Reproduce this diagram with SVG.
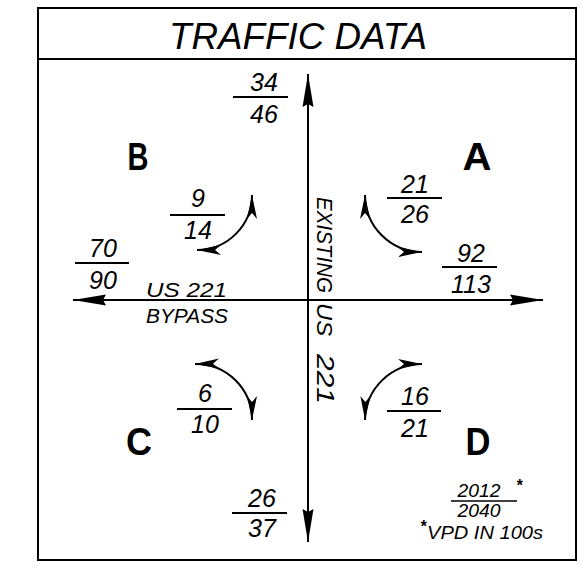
<svg xmlns="http://www.w3.org/2000/svg" width="584" height="573" viewBox="0 0 584 573">
<style>
.t{font-family:"Liberation Sans",Arial,sans-serif;font-style:italic;fill:#000}
.n{font-size:25px;text-anchor:middle}
.q{font-family:"Liberation Sans",Arial,sans-serif;font-size:38px;font-weight:bold;fill:#000;text-anchor:middle}
.ln{stroke:#000;stroke-width:2;fill:none}
.fl{stroke:#000;stroke-width:2}
</style>
<defs>
<marker id="big" markerUnits="userSpaceOnUse" markerWidth="40" markerHeight="16" viewBox="-34 -8 36 16" refX="0" refY="0" orient="auto-start-reverse">
<path d="M0,0 L-33,-5.5 L-30,0 L-33,5.5 Z" fill="#000"/>
</marker>
<marker id="sm" markerUnits="userSpaceOnUse" markerWidth="28" markerHeight="12" viewBox="-26 -6 28 12" refX="0" refY="0" orient="auto-start-reverse">
<path d="M0,0 L-24,-5 L-18,0 L-24,5 Z" fill="#000"/>
</marker>
</defs>
<rect x="0" y="0" width="584" height="573" fill="#fff"/>
<g id="frame">
<rect x="38" y="8" width="538" height="552" fill="none" stroke="#000" stroke-width="2"/>
<line x1="38" y1="59" x2="576" y2="59" stroke="#000" stroke-width="2"/>
<text class="t" x="298" y="49" font-size="37" text-anchor="middle" textLength="258" lengthAdjust="spacingAndGlyphs">TRAFFIC DATA</text>
</g>
<g id="connectors">
<line class="ln" x1="308" y1="300" x2="308" y2="74" marker-end="url(#big)"/>
<line class="ln" x1="308" y1="300" x2="308" y2="542" marker-end="url(#big)"/>
<line class="ln" x1="308" y1="300" x2="73" y2="300" marker-end="url(#big)"/>
<line class="ln" x1="308" y1="300" x2="543" y2="300" marker-end="url(#big)"/>
<path class="ln" d="M252,195 A55,55 0 0 1 197,250" marker-start="url(#sm)" marker-end="url(#sm)"/>
<path class="ln" d="M365,195 A57,57 0 0 0 422,252" marker-start="url(#sm)" marker-end="url(#sm)"/>
<path class="ln" d="M195,364 A56,56 0 0 1 252,420" marker-start="url(#sm)" marker-end="url(#sm)"/>
<path class="ln" d="M422,364 A57,57 0 0 0 365,420" marker-start="url(#sm)" marker-end="url(#sm)"/>
</g>
<g id="road-labels">
<text class="t" x="146" y="297" font-size="20" textLength="81" lengthAdjust="spacingAndGlyphs">US  221</text>
<text class="t" x="146" y="323" font-size="20" textLength="82" lengthAdjust="spacingAndGlyphs">BYPASS</text>
<text class="t" font-size="22" transform="translate(317,197) rotate(90)" textLength="96" lengthAdjust="spacingAndGlyphs">EXISTING</text>
<text class="t" font-size="22" transform="translate(317,303) rotate(90)" textLength="33" lengthAdjust="spacingAndGlyphs">US</text>
<text class="t" font-size="23" transform="translate(317,354) rotate(90)" textLength="50" lengthAdjust="spacingAndGlyphs">221</text>
</g>
<g id="quadrant-A"><text class="q" x="477" y="170" textLength="29" lengthAdjust="spacingAndGlyphs">A</text></g>
<g id="quadrant-B"><text class="q" x="138" y="170" textLength="21" lengthAdjust="spacingAndGlyphs">B</text></g>
<g id="quadrant-C"><text class="q" x="139" y="455" textLength="26" lengthAdjust="spacingAndGlyphs">C</text></g>
<g id="quadrant-D"><text class="q" x="478" y="455" textLength="25" lengthAdjust="spacingAndGlyphs">D</text></g>
<g id="vol-north">
<text class="t n" x="264" y="91">34</text><line class="fl" x1="233" y1="97" x2="288" y2="97"/><text class="t n" x="264" y="123">46</text>
</g>
<g id="vol-south">
<text class="t n" x="262" y="507">26</text><line class="fl" x1="232" y1="513" x2="287" y2="513"/><text class="t n" x="262" y="537">37</text>
</g>
<g id="vol-west">
<text class="t n" x="103" y="257">70</text><line class="fl" x1="75" y1="263" x2="129" y2="263"/><text class="t n" x="103" y="289">90</text>
</g>
<g id="vol-east">
<text class="t n" x="471" y="262">92</text><line class="fl" x1="442" y1="267" x2="497" y2="267"/><text class="t n" x="471" y="293">113</text>
</g>
<g id="vol-B">
<text class="t n" x="198" y="207">9</text><line class="fl" x1="170" y1="215" x2="225" y2="215"/><text class="t n" x="198" y="239">14</text>
</g>
<g id="vol-A">
<text class="t n" x="415" y="193">21</text><line class="fl" x1="387" y1="198" x2="442" y2="198"/><text class="t n" x="415" y="223">26</text>
</g>
<g id="vol-C">
<text class="t n" x="205" y="402">6</text><line class="fl" x1="177" y1="409" x2="232" y2="409"/><text class="t n" x="205" y="433">10</text>
</g>
<g id="vol-D">
<text class="t n" x="415" y="405">16</text><line class="fl" x1="387" y1="411" x2="441" y2="411"/><text class="t n" x="415" y="437">21</text>
</g>
<g id="legend">
<text class="t" x="479" y="497" font-size="19" text-anchor="middle" textLength="43" lengthAdjust="spacingAndGlyphs">2012</text>
<line x1="451" y1="501" x2="517" y2="501" stroke="#000" stroke-width="1.5"/>
<text class="t" x="479" y="517" font-size="19" text-anchor="middle" textLength="43" lengthAdjust="spacingAndGlyphs">2040</text>
<text class="t" x="519" y="491" font-size="16" font-weight="bold" text-anchor="middle">*</text>
<text class="t" x="423" y="532" font-size="16" font-weight="bold" text-anchor="middle">*</text>
<text class="t" x="427" y="539" font-size="19" textLength="116" lengthAdjust="spacingAndGlyphs">VPD IN 100s</text>
</g>
</svg>
